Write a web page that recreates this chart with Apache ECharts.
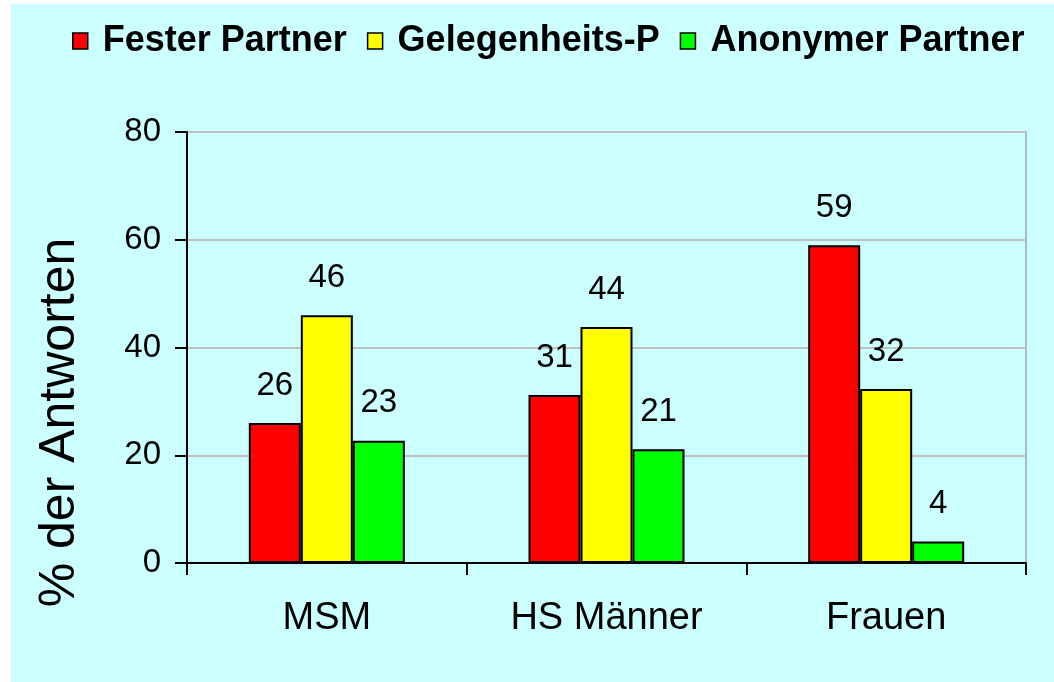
<!DOCTYPE html>
<html>
<head>
<meta charset="utf-8">
<script src="https://cdn.jsdelivr.net/npm/echarts@6/dist/echarts.min.js"></script>
<style>
  html, body { margin: 0; padding: 0; background: #ffffff; }
  #chart { position: absolute; left: 11px; top: 4px; width: 1043px; height: 678px; }
</style>
</head>
<body>
<div id="chart"></div>
<script>
// kategorien und werte (% der Antworten)
const categories = ['MSM', 'HS Männer', 'Frauen'];
const festerPartner = [26, 31.2, 59];
const gelegenheitsP = [46, 43.8, 32.3];
const anonymerPartner = [22.7, 21.1, 4];
const yTicks = [0, 20, 40, 60, 80];

const font = "'Liberation Sans', Arial, sans-serif";

function makeSeries(name, data, color) {
  return {
    name: name,
    type: 'bar',
    data: data,
    barWidth: 52,
    barGap: '0%',
    itemStyle: { color: color, borderColor: '#000', borderWidth: 2 },
    label: {
      show: true,
      position: 'top',
      distance: 21,
      color: '#000',
      fontFamily: font,
      fontSize: 33,
      formatter: (p) => Math.round(p.value)
    }
  };
}

let chart = echarts.init(document.getElementById('chart'));
let options = {
  backgroundColor: '#ccffff',
  animation: false,
  textStyle: { fontFamily: font },
  legend: {
    left: 56,
    top: 14,
    itemWidth: 15,
    itemHeight: 16,
    itemGap: 20,
    icon: 'rect',
    itemStyle: { borderColor: '#000', borderWidth: 1.5 },
    textStyle: { fontFamily: font, fontSize: 36, fontWeight: 'bold', color: '#000', padding: [0, 0, 0, 10] },
    data: ['Fester Partner', 'Gelegenheits-P', 'Anonymer Partner']
  },
  grid: {
    show: true,
    left: 176,
    top: 128,
    right: 28,
    bottom: 119,
    borderColor: '#b0b8c0',
    borderWidth: 2
  },
  xAxis: {
    type: 'category',
    data: categories,
    axisLine: { lineStyle: { color: '#000', width: 2 } },
    axisTick: { show: true, length: 12, lineStyle: { color: '#000', width: 2 } },
    axisLabel: { color: '#000', fontSize: 38, margin: 37, fontFamily: font }
  },
  yAxis: {
    type: 'value',
    min: yTicks[0],
    max: yTicks[yTicks.length - 1],
    interval: yTicks[1] - yTicks[0],
    name: '% der Antworten',
    nameLocation: 'middle',
    nameRotate: 90,
    nameGap: 102,
    nameTextStyle: { color: '#000', fontSize: 50, fontFamily: font, padding: [0, 150, 0, 0] },
    axisLine: { show: true, lineStyle: { color: '#000', width: 2 } },
    axisTick: { show: true, length: 12, lineStyle: { color: '#000', width: 2 } },
    axisLabel: { color: '#000', fontSize: 33, margin: 26, fontFamily: font },
    splitLine: { show: true, lineStyle: { color: '#c0c0c0', width: 2 } }
  },
  series: [
    makeSeries('Fester Partner', festerPartner, '#ff0000'),
    makeSeries('Gelegenheits-P', gelegenheitsP, '#ffff00'),
    makeSeries('Anonymer Partner', anonymerPartner, '#00ff00')
  ]
};
chart.setOption(options);
</script>
</body>
</html>
